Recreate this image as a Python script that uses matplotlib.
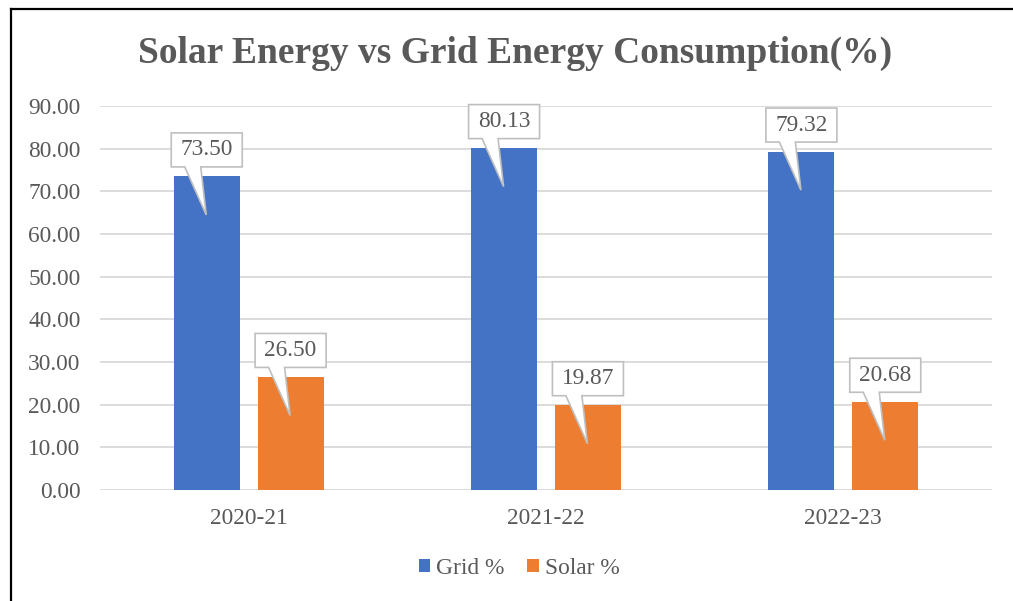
import matplotlib
matplotlib.use("Agg")
import matplotlib.pyplot as plt
import matplotlib.transforms as mtransforms
from matplotlib.patches import Polygon, Patch
from matplotlib.lines import Line2D

# ---------------------------------------------------------------------------
# Data
# ---------------------------------------------------------------------------

years = ["2020-21", "2021-22", "2022-23"]
grid_pct = [73.50, 80.13, 79.32]
solar_pct = [26.50, 19.87, 20.68]
y_ticks = [0, 10, 20, 30, 40, 50, 60, 70, 80, 90]

BLUE = "#4472C4"
ORANGE = "#ED7D31"
TEXT = "#595959"
GRID = "#D9D9D9"
CALLOUT_EDGE = "#BFBFBF"
FONT = ["Liberation Serif", "DejaVu Serif"]
FS = 16.8

plt.rcParams["font.family"] = FONT

fig = plt.figure(figsize=(10.13, 6.01), dpi=100)
ax = fig.add_axes([100 / 1013, 1 - 490 / 601, 892 / 1013, 384 / 601])

x = list(range(len(years)))
width = 0.222
offset = 0.141

ax.bar([i - offset for i in x], grid_pct, width, color=BLUE, zorder=2, label="Grid %")
ax.bar([i + offset for i in x], solar_pct, width, color=ORANGE, zorder=2, label="Solar %")

ax.set_xlim(-0.5, len(years) - 0.5)
ax.set_ylim(0, 90)
ax.set_yticks(y_ticks)
ax.set_yticklabels([f"{v:.2f}" for v in y_ticks])
ax.set_xticks(x)
ax.set_xticklabels(years)
ax.tick_params(axis="both", length=0, labelsize=FS, labelcolor=TEXT)
ax.tick_params(axis="y", pad=14)
ax.tick_params(axis="x", pad=13)
ax.grid(axis="y", color=GRID, linewidth=1.3, zorder=0)
ax.set_axisbelow(True)
for s in ax.spines.values():
    s.set_visible(False)


# ---------------------------------------------------------------------------
# Callout data labels (box with a pointer into the bar)
# ---------------------------------------------------------------------------

# shape in pixels, relative to the top centre of the bar
callout_shape = [(-35.5, 9.5), (-22, 9.5), (-0.5, -38.5), (-6, 9.5),
                 (35.5, 9.5), (35.5, 43.5), (-35.5, 43.5)]


def callout(xc, val):
    trans = (mtransforms.Affine2D().scale(fig.dpi / 100)
             + mtransforms.ScaledTranslation(xc, val, ax.transData))
    poly = Polygon(callout_shape, closed=True, transform=trans,
                   facecolor="white", edgecolor=CALLOUT_EDGE,
                   linewidth=1.2, zorder=5, clip_on=False)
    ax.add_patch(poly)
    ax.annotate(f"{val:.2f}", xy=(xc, val), xytext=(0, 26.5),
                textcoords="offset pixels", ha="center", va="center",
                fontsize=FS, color=TEXT, zorder=6)


for i in x:
    callout(i - offset, grid_pct[i])
    callout(i + offset, solar_pct[i])

# ---------------------------------------------------------------------------
# Title, legend, frame
# ---------------------------------------------------------------------------

fig.text(515 / 1013, 1 - 53 / 601, "Solar Energy vs Grid Energy Consumption(%)",
         ha="center", va="center", fontsize=27, fontweight="bold", color=TEXT)

handles = [Patch(facecolor=BLUE, edgecolor="none", label="Grid %"),
           Patch(facecolor=ORANGE, edgecolor="none", label="Solar %")]
fig.legend(handles=handles, loc="center", bbox_to_anchor=(519 / 1013, 1 - 568 / 601),
           ncol=2, frameon=False, fontsize=FS, labelcolor=TEXT,
           handlelength=0.48, handleheight=0.48, handletextpad=0.25,
           columnspacing=1.0)

fig.add_artist(Line2D([10.5 / 1013, 10.5 / 1013], [0, 1 - 9 / 601],
                      transform=fig.transFigure, color="black", linewidth=1.6))
fig.add_artist(Line2D([10.5 / 1013, 1], [1 - 9 / 601, 1 - 9 / 601],
                      transform=fig.transFigure, color="black", linewidth=1.6))

fig.savefig("out.png", dpi=100)
